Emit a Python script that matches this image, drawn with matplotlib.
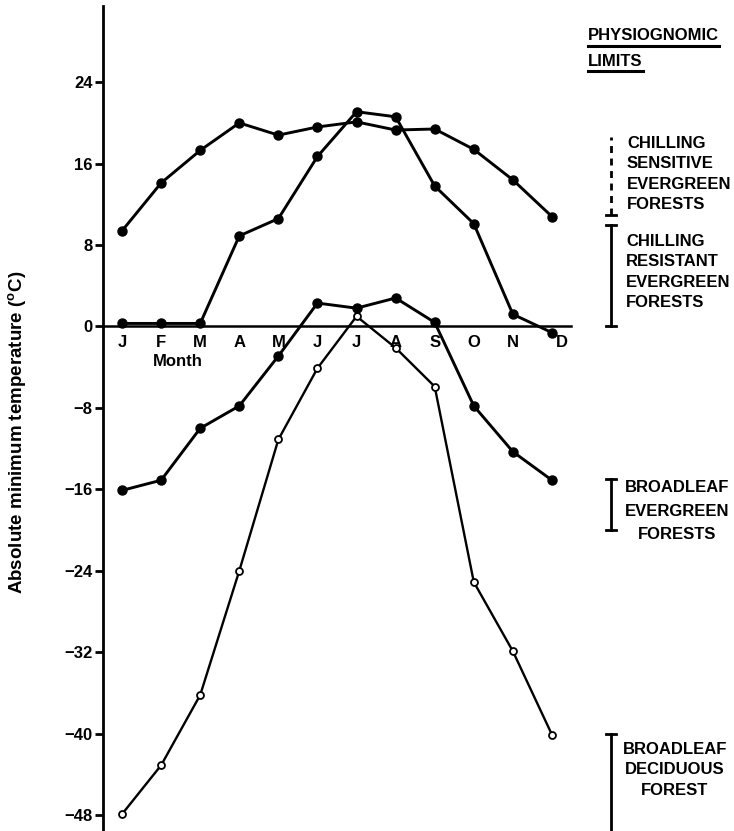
import matplotlib
matplotlib.use("Agg")
import matplotlib.pyplot as plt
from matplotlib import transforms
from matplotlib.lines import Line2D

plt.rcParams["font.family"] = ["Liberation Sans", "DejaVu Sans"]
plt.rcParams["font.weight"] = "bold"
plt.rcParams["mathtext.fontset"] = "custom"
plt.rcParams["mathtext.rm"] = "Liberation Sans:bold"
plt.rcParams["mathtext.bf"] = "Liberation Sans:bold"

# Monthly absolute minimum temperatures (deg C)
months = ["J", "F", "M", "A", "M", "J", "J", "A", "S", "O", "N", "D"]
yticks = [24, 16, 8, 0, -8, -16, -24, -32, -40, -48]

site_warm = [9.4, 14.1, 17.3, 20.0, 18.8, 19.6, 20.1, 19.3, 19.4, 17.4, 14.4, 10.8]
site_seasonal = [0.3, 0.3, 0.3, 8.9, 10.6, 16.7, 21.1, 20.6, 13.8, 10.1, 1.2, -0.6]
site_cool = [-16.1, -15.1, -10.0, -7.8, -2.9, 2.3, 1.8, 2.8, 0.4, -7.8, -12.3, -15.1]
site_cold = [-47.9, -43.1, -36.2, -24.0, -11.1, -4.1, 1.0, -2.1, -5.9, -25.1, -31.9, -40.1]

# Physiognomic limit ranges (deg C)
sensitive_range = [11.0, 18.6]
resistant_range = [0.0, 10.0]
bl_evergreen_range = [-20.0, -15.0]
bl_deciduous_range = [-50.0, -40.0]

W, H = 734, 831
fig = plt.figure(figsize=(W / 100, H / 100), dpi=100)
ax = fig.add_axes([102.5 / W, 0.0, (571.5 - 102.5) / W, 1 - 6 / H])

x = list(range(len(months)))
filled = dict(color="black", lw=2.1, marker="o", ms=6.5, mfc="black", mec="black", zorder=3)
ax.plot(x, site_warm, **filled)
ax.plot(x, site_seasonal, **filled)
ax.plot(x, site_cool, **filled)
ax.plot(x, site_cold, color="black", lw=1.7, marker="o", ms=5, mfc="white", mec="black",
        mew=1.3, zorder=4)

ax.set_xlim(-0.5, 11.5)
ax.set_ylim((326.5 - 831) / 10.18, (326.5 - 6) / 10.18)

for s in ("top", "right"):
    ax.spines[s].set_visible(False)
ax.spines["left"].set_linewidth(2.0)
ax.spines["bottom"].set_position(("data", 0))
ax.spines["bottom"].set_linewidth(1.8)

ax.set_yticks(yticks)
ax.set_yticklabels([("\u2212" + str(abs(v))) if v < 0 else str(v) for v in yticks])
ax.tick_params(axis="y", direction="out", length=6, width=2, pad=1, labelsize=12)
ax.set_xticks(x)
ax.set_xticklabels(months)
ax.tick_params(axis="x", length=0, pad=6, labelsize=12)
for lab in ax.get_xticklabels() + ax.get_yticklabels():
    lab.set_fontweight("bold")
# last month letter sits a little right of its point
last = ax.get_xticklabels()[-1]
last.set_transform(last.get_transform() + transforms.ScaledTranslation(10 / 100, 0, fig.dpi_scale_trans))

ax.text(1.43, -3.4, "Month", ha="center", va="center", fontsize=12, fontweight="bold")

fig.text(18 / W, 1 - 432 / H, r"Absolute minimum temperature ($^{\mathrm{o}}$C)",
         rotation=90, ha="center", va="center", fontsize=13.5, fontweight="bold")

# Physiognomic limit bars on the right
bt = transforms.blended_transform_factory(fig.transFigure, ax.transData)
bar_x = 611 / W
cap = 5 / W


def limit_bar(lo, hi, dashed=False, cap_lo=True, cap_hi=True):
    ls = (0, (2.5, 2.0)) if dashed else "-"
    fig.add_artist(Line2D([bar_x, bar_x], [lo, hi], transform=bt, color="black",
                          lw=2.0, ls=ls, clip_on=False))
    if cap_lo:
        fig.add_artist(Line2D([bar_x - cap, bar_x + cap], [lo, lo], transform=bt,
                              color="black", lw=2.0, clip_on=False))
    if cap_hi:
        fig.add_artist(Line2D([bar_x - cap, bar_x + cap], [hi, hi], transform=bt,
                              color="black", lw=2.0, clip_on=False))


limit_bar(*sensitive_range, dashed=True, cap_lo=True, cap_hi=False)
limit_bar(*resistant_range)
limit_bar(*bl_evergreen_range)
limit_bar(*bl_deciduous_range, cap_lo=False)

fs = 12
fig.text(627 / W, 1 - 174 / H, "CHILLING\nSENSITIVE\nEVERGREEN\nFORESTS", ha="left", va="center",
         fontsize=fs, fontweight="bold", linespacing=1.45)
fig.text(626 / W, 1 - 272 / H, "CHILLING\nRESISTANT\nEVERGREEN\nFORESTS", ha="left", va="center",
         fontsize=fs, fontweight="bold", linespacing=1.42)
fig.text(677 / W, 1 - 511 / H, "BROADLEAF\nEVERGREEN\nFORESTS", ha="center", va="center",
         fontsize=fs, fontweight="bold", linespacing=1.72, multialignment="center")
fig.text(675 / W, 1 - 770 / H, "BROADLEAF\nDECIDUOUS\nFOREST", ha="center", va="center",
         fontsize=fs, fontweight="bold", linespacing=1.45, multialignment="center")

head1 = fig.text(588 / W, 1 - 36 / H, "PHYSIOGNOMIC", ha="left", va="center",
                 fontsize=fs, fontweight="bold")
head2 = fig.text(588 / W, 1 - 61 / H, "LIMITS", ha="left", va="center",
                 fontsize=fs, fontweight="bold")

fig.canvas.draw()
renderer = fig.canvas.get_renderer()
for t in (head1, head2):
    bb = t.get_window_extent(renderer)
    yline = bb.y0 - 2
    fig.add_artist(Line2D([bb.x0 / W, bb.x1 / W], [yline / H, yline / H],
                          transform=fig.transFigure, color="black", lw=2.2))

fig.savefig("out.png", dpi=100)
